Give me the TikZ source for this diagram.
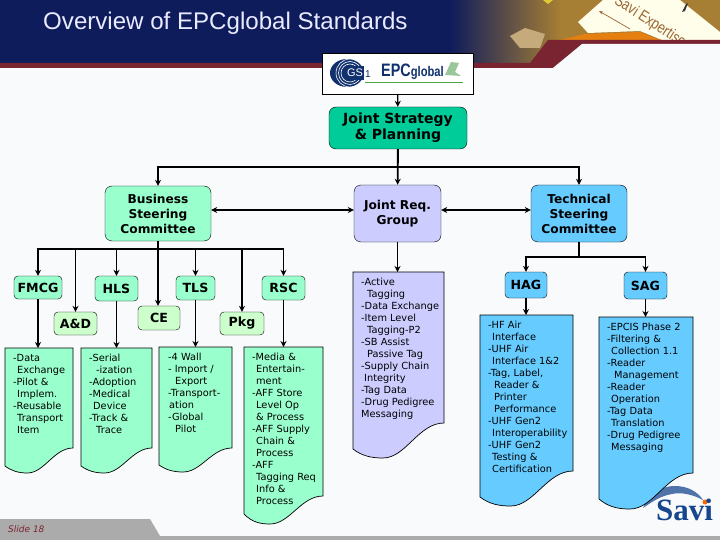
\documentclass[tikz,border=0pt]{standalone}
\usepackage{fontspec}
\setmainfont{DejaVu Sans}
\newfontfamily\arialfont{Liberation Sans}
\newfontfamily\timesfont{Liberation Serif}
\usepackage{xcolor}
\usepackage{tikz}
\usetikzlibrary{arrows.meta}
\definecolor{navyband}{RGB}{14,28,92}
\definecolor{redband}{RGB}{122,36,50}
\definecolor{goldband}{RGB}{166,126,52}
\definecolor{pagebg}{RGB}{249,250,252}
\definecolor{tealbox}{RGB}{0,204,153}
\definecolor{mintbox}{RGB}{153,255,204}
\definecolor{palebox}{RGB}{204,255,204}
\definecolor{lilacbox}{RGB}{204,204,255}
\definecolor{bluebox}{RGB}{102,204,255}
\definecolor{gsnavy}{RGB}{16,48,110}
\definecolor{savinavy}{RGB}{22,70,140}
\tikzset{
  headbox/.style={draw=black, rounded corners=7pt, align=center, inner sep=0pt, font=\fontsize{12.2}{15}\selectfont\bfseries},
  groupbox/.style={draw=black, rounded corners=4pt, align=center, inner sep=0pt, font=\fontsize{12.6}{14}\selectfont\bfseries},
  doctext/.style={anchor=north west, align=left, inner ysep=6pt, font=\fontsize{9.8}{12}\selectfont},
  thickline/.style={line width=1.9pt, -{Stealth[length=6pt,width=6pt]}},
  thinline/.style={line width=1.2pt, -{Stealth[length=6pt,width=6pt]}},
  twoway/.style={line width=1.9pt, {Stealth[length=6pt,width=6pt]}-{Stealth[length=6pt,width=6pt]}}
}
% wavy bottom box: colour, x1, top, x2, right end, left end, lowest point
\newcommand{\wavebox}[7]{
  \draw[fill=#1, line width=.7pt] (#2,#3) -- (#4,#3) -- (#4,#5)
    .. controls ({#4-.28*(#4-#2)},#5) and ({#4-.42*(#4-#2)},#7) .. ({#2+.33*(#4-#2)},#7)
    .. controls ({#2+.2*(#4-#2)},#7) and ({#2+.1*(#4-#2)},{#7-2}) .. (#2,#6) -- cycle;
}
\newcommand{\idt}[1]{\hspace*{#1pt}}
\begin{document}
\begin{tikzpicture}[x=1pt,y=-1pt]
\useasboundingbox (0,0) rectangle (720,540);
% page and banner
\fill[pagebg] (0,0) rectangle (720,540);
\fill[navyband] (0,0) rectangle (720,64);
\shade[left color=navyband, right color=goldband] (450,0) rectangle (560,64);
\fill[goldband] (560,0) rectangle (720,40);
\fill[white!35!goldband] (510,36) -- (525,28) -- (545,34) -- (540,48) -- (520,48) -- cycle;
\fill[yellow!60!goldband] (543,0) -- (553,0) -- (548,4) -- cycle;
\fill[orange!70!goldband] (560,40) -- (585,34) -- (640,32) -- (660,40) -- cycle;
\fill[yellow!8!white] (603,0) -- (578,22) -- (588,33) -- (640,31) -- (662,40) -- (720,40) -- (720,32) -- (680,0) -- cycle;
\fill[black!80] (682,12) -- (686,4) -- (688,3) -- (685,11) -- cycle;
\begin{scope}
  \clip (560,0) rectangle (720,40);
  \draw[brown!80!black, line width=.7pt, {Stealth[length=4pt,width=3pt]}-] (599,11) -- (630,29);
  \node[rotate=-33, text=brown!80!black, font=\arialfont\fontsize{14.5}{15}\selectfont] (savitag) at (650,22) {\scalebox{.88}[1.1]{Savi Expertise}};
\end{scope}
\fill[redband] (0,63) -- (530,63) -- (548,40) -- (720,40) -- (720,44) -- (582,44) -- (553,68) -- (0,68) -- cycle;
\fill[pagebg] (553,68) -- (582,44) -- (720,44) -- (720,68) -- cycle;
\node[anchor=base west, inner sep=0pt, text=white!92!blue, font=\arialfont\fontsize{24.1}{25}\selectfont] (title) at (43,30) {Overview of EPCglobal Standards};
% footer
\fill[black!33] (0,519) -- (150,519) -- (160,536) -- (720,536) -- (720,540) -- (0,540) -- cycle;
\node[anchor=base west, inner sep=0pt, text=redband, font=\fontsize{9}{9}\selectfont\itshape] (slide) at (8,532) {Slide 18};
% savi logo
\fill[savinavy!75!white] (643,508) .. controls (652,490) and (665,486) .. (675,486) .. controls (688,486) and (698,492) .. (703,500) .. controls (692,494) and (680,492) .. (672,494) .. controls (660,496) and (652,502) .. (643,508) -- cycle;
\fill[orange!80!red] (705,502) circle (2.5);
\node[anchor=base west, inner sep=0pt, text=savinavy, font=\timesfont\fontsize{31}{31}\selectfont\bfseries] (savi) at (656,520) {Savi};
% logo box
\node[draw=black, fill=white, line width=.8pt, minimum width=151pt, minimum height=41pt, inner sep=0pt] (logo) at (397.5,73.5) {};
\fill[gsnavy] (347,73) ellipse (17 and 14);
\begin{scope}
  \clip (347,73) ellipse (17 and 14);
  \foreach \r in {9,11.5,14}
    \draw[white, line width=.6pt] (350,73) circle (\r);
\end{scope}
\fill[gsnavy] (347,66) rectangle (364,80);
\node[inner sep=0pt, text=white, font=\arialfont\fontsize{11}{11}\selectfont] (gs) at (355,73) {GS};
\node[inner sep=0pt, text=gsnavy, font=\arialfont\fontsize{10}{10}\selectfont] (gsone) at (368,74) {1};
\node[anchor=base west, inner sep=0pt, text=gsnavy, font=\arialfont\bfseries] (epc) at (381,77) {\scalebox{.8}[1]{\fontsize{18}{18}\selectfont EPC\fontsize{14}{14}\selectfont global}};
\draw[green!50!black!70, line width=.6pt] (365,82) -- (463,82);
\fill[green!45!black!40] (445,75) -- (451,62) -- (459,63) -- (455,72) -- (461,76) -- cycle;
% top levels
\node[headbox, fill=tealbox, minimum width=138pt, minimum height=42pt, font=\fontsize{14}{16}\selectfont\bfseries] (jsp) at (398,128) {Joint Strategy\\\& Planning};
\node[headbox, fill=mintbox, minimum width=106pt, minimum height=55pt] (bsc) at (158,213.5) {Business\\Steering\\Committee};
\node[headbox, fill=lilacbox, minimum width=87pt, minimum height=57pt] (jrg) at (397.5,213.5) {Joint Req.\\Group};
\node[headbox, fill=bluebox, minimum width=96pt, minimum height=57pt] (tsc) at (579,213.5) {Technical\\Steering\\Committee};
% groups
\node[groupbox, fill=mintbox, minimum width=48pt, minimum height=23pt] (fmcg) at (38,287.5) {FMCG};
\node[groupbox, fill=mintbox, minimum width=43pt, minimum height=25pt] (hls) at (116.5,288.5) {HLS};
\node[groupbox, fill=mintbox, minimum width=39pt, minimum height=24pt] (tls) at (195.5,288) {TLS};
\node[groupbox, fill=mintbox, minimum width=43pt, minimum height=24pt] (rsc) at (283.5,288) {RSC};
\node[groupbox, fill=palebox, minimum width=43pt, minimum height=23pt] (ad) at (75.5,323.5) {A\&D};
\node[groupbox, fill=palebox, minimum width=42pt, minimum height=24pt] (ce) at (159,318) {CE};
\node[groupbox, fill=palebox, minimum width=44pt, minimum height=23pt] (pkg) at (242,323.5) {Pkg};
\node[groupbox, fill=bluebox, minimum width=42pt, minimum height=26pt] (hag) at (526,285) {HAG};
\node[groupbox, fill=bluebox, minimum width=43pt, minimum height=27pt] (sag) at (645.5,285.5) {SAG};
% lists
\wavebox{mintbox}{5}{348}{73}{448}{466}{473}
\node[doctext, inner xsep=8pt] (dfmcg) at (5,348) {-Data\\\idt{4}Exchange\\-Pilot \&\\\idt{4}Implem.\\-Reusable\\\idt{4}Transport\\\idt{4}Item};
\wavebox{mintbox}{81}{348}{152}{448}{466}{473}
\node[doctext, inner xsep=8pt] (dhls) at (81,348) {-Serial\\\idt{7}-ization\\-Adoption\\-Medical\\\idt{4}Device\\-Track \&\\\idt{7}Trace};
\wavebox{mintbox}{159}{347}{232}{448}{465}{472}
\node[doctext, inner xsep=9pt] (dtls) at (159,347) {-4 Wall\\- Import /\\\idt{7}Export\\-Transport-\\\idt{1}ation\\-Global\\\idt{7}Pilot};
\wavebox{mintbox}{244}{347}{323}{496}{514}{524}
\node[doctext, inner xsep=8pt] (drsc) at (244,347) {-Media \&\\\idt{4}Entertain-\\\idt{4}ment\\-AFF Store\\\idt{4}Level Op\\\idt{4}\& Process\\-AFF Supply\\\idt{4}Chain \&\\\idt{4}Process\\-AFF\\\idt{4}Tagging Req\\\idt{4}Info \&\\\idt{4}Process};
\wavebox{lilacbox}{353}{272}{444}{423}{449}{458}
\node[doctext, inner xsep=8pt] (djrg) at (353,272) {-Active\\\idt{6}Tagging\\-Data Exchange\\-Item Level\\\idt{6}Tagging-P2\\-SB Assist\\\idt{6}Passive Tag\\-Supply Chain\\\idt{3}Integrity\\-Tag Data\\-Drug Pedigree\\Messaging};
\wavebox{bluebox}{480}{315}{573}{471}{497}{506}
\node[doctext, inner xsep=8pt] (dhag) at (480,315) {-HF Air\\\idt{4}Interface\\-UHF Air\\\idt{4}Interface 1\&2\\-Tag, Label,\\\idt{6}Reader \&\\\idt{6}Printer\\\idt{6}Performance\\-UHF Gen2\\\idt{4}Interoperability\\-UHF Gen2\\\idt{4}Testing \&\\\idt{4}Certification};
\wavebox{bluebox}{599}{317}{693}{473}{499}{509}
\node[doctext, inner xsep=8pt] (dsag) at (599,317) {-EPCIS Phase 2\\-Filtering \&\\\idt{4}Collection 1.1\\-Reader\\\idt{7}Management\\-Reader\\\idt{4}Operation\\-Tag Data\\\idt{4}Translation\\-Drug Pedigree\\\idt{4}Messaging};
% connectors
\coordinate (topbus) at (398,167);
\coordinate (busbus) at (158,249);
\coordinate (techbus) at (579,257);
\draw[thinline] (logo) -- (jsp);
\draw[thickline] (jsp) -- (jrg);
\draw[thickline] (topbus) -| (bsc.north);
\draw[thickline] (topbus) -| (tsc.north);
\draw[twoway] ([yshift=3.5pt]bsc.east) -- ([yshift=3.5pt]jrg.west);
\draw[twoway] ([yshift=3.5pt]jrg.east) -- ([yshift=3.5pt]tsc.west);
\draw[thickline] (bsc.south) -- (bsc.south |- ce.north);
\foreach \n in {fmcg,rsc,pkg}
  \draw[thickline] (busbus) -| (\n.north);
\foreach \n in {ad,hls,tls}
  \draw[thinline] (busbus) -| (\n.north);
\draw[thickline] (fmcg.south) -- (fmcg.south |- dfmcg.north);
\draw[thinline] (hls.south) -- (hls.south |- dhls.north);
\draw[thinline] (tls.south) -- (tls.south |- dtls.north);
\draw[thickline] (rsc.south) -- (rsc.south |- drsc.north);
\draw[thickline] (jrg.south) -- (jrg.south |- djrg.north);
\draw[thickline] (tsc.south) -- (techbus) -| (hag.north);
\draw[thickline] (techbus) -| (sag.north);
\draw[thickline] (hag.south) -- (hag.south |- dhag.north);
\draw[thinline] (sag.south) -- (sag.south |- dsag.north);
\end{tikzpicture}
\end{document}
